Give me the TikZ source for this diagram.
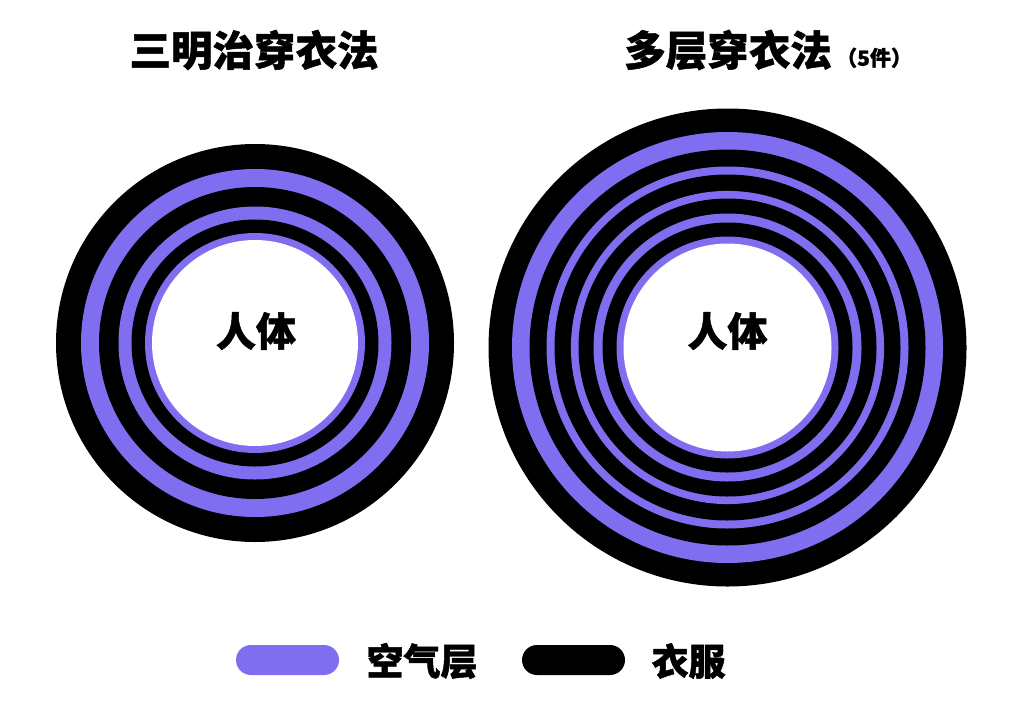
\documentclass[tikz,border=0pt]{standalone}
\usepackage{fontspec}
\newfontfamily\cjk{Noto Sans CJK SC}[BoldFeatures={FakeBold=1.2}]
\definecolor{air}{HTML}{7F6EF0}
\begin{document}
\begin{tikzpicture}[x=1pt,y=-1pt,
  title/.style={font=\cjk\bfseries\fontsize{41.5pt}{48pt}\selectfont, inner sep=0pt},
  small/.style={font=\cjk\bfseries\fontsize{21pt}{24pt}\selectfont, inner sep=0pt},
  body/.style={font=\cjk\bfseries\fontsize{40pt}{48pt}\selectfont, inner sep=0pt},
  legtext/.style={font=\cjk\bfseries\fontsize{37pt}{44pt}\selectfont, inner sep=0pt},
  pill/.style={minimum width=103pt, minimum height=30pt, rounded corners=15pt, inner sep=0pt}]
\useasboundingbox[fill=white] (0,0) rectangle (1027,720);
% left rings
\foreach \r/\c in {199/black,174/air,156/black,136.5/air,123.5/black,110/air,103/white}
  \fill[\c] (255,343) circle[radius=\r];
% right rings
\foreach \r/\c in {239/black,215.5/air,198/black,181/air,173/black,156.6/air,149/black,134/air,125/black,111/air,104/white}
  \fill[\c] (727.5,347.5) circle[radius=\r];
% titles
\node[title] (t1) at (254,50) {三明治穿衣法};
\node[title] (t2) at (728,50) {多层穿衣法};
\node[small, anchor=base west] (t2s) at ([xshift=4pt]t2.base east) {（5件）};
% body labels
\node[body] (b1) at (256,331) {人体};
\node[body] (b2) at (727.5,331) {人体};
% legend
\node[pill, fill=air] (p1) at (287.5,660) {};
\node[legtext] (l1) at (422,661) {空气层};
\node[pill, fill=black] (p2) at (573.5,660) {};
\node[legtext] (l2) at (688.5,661) {衣服};
\end{tikzpicture}
\end{document}
